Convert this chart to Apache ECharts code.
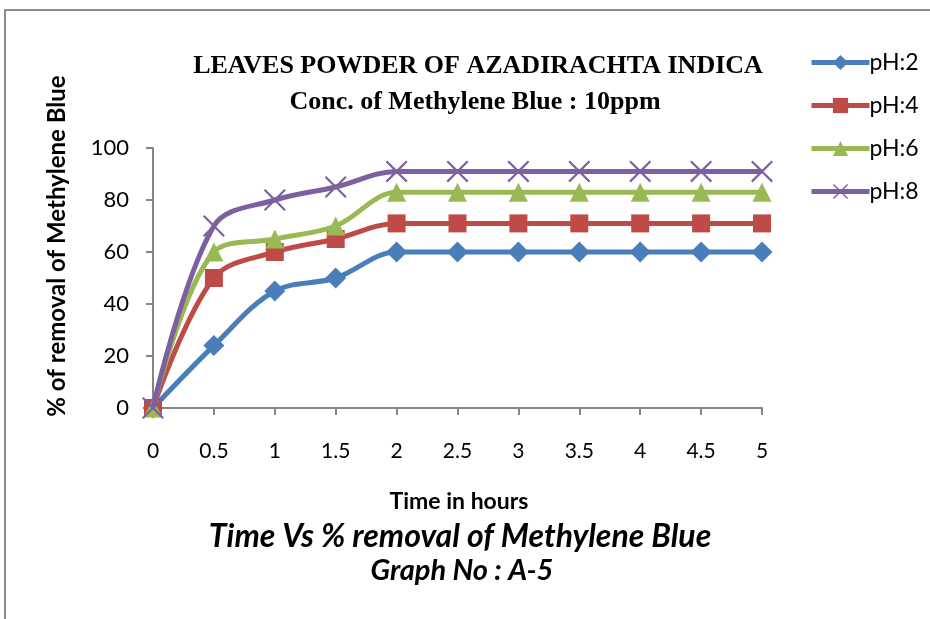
<!DOCTYPE html>
<html><head><meta charset="utf-8">
<script src="https://cdn.jsdelivr.net/npm/echarts@6/dist/echarts.min.js"></script>
<style>html,body{margin:0;padding:0;background:#fff}#c{width:930px;height:619px}</style>
</head><body><div id="c"></div>
<script>
var times = [0, 0.5, 1, 1.5, 2, 2.5, 3, 3.5, 4, 4.5, 5];
var ph2 = [0, 24, 45, 50, 60, 60, 60, 60, 60, 60, 60];
var ph4 = [0, 50, 60, 65, 71, 71, 71, 71, 71, 71, 71];
var ph6 = [0, 60, 65, 70, 83, 83, 83, 83, 83, 83, 83];
var ph8 = [0, 70, 80, 85, 91, 91, 91, 91, 91, 91, 91];
var seriesNames = ['pH:2', 'pH:4', 'pH:6', 'pH:8'];
var colors = ['#4A7EBB', '#BE4B48', '#98B954', '#7D60A0'];

function pairs(v){ return times.map(function(t,i){ return [t, v[i]]; }); }
var crossPath = 'path://M0,1.4 L1.4,0 L10,8.6 L18.6,0 L20,1.4 L11.4,10 L20,18.6 L18.6,20 L10,11.4 L1.4,20 L0,18.6 L8.6,10 Z';
var symbols = ['diamond', 'rect', 'triangle', crossPath];
var sizes = [21, 18, 19, 22];
var values = [ph2, ph4, ph6, ph8];

var font = 'Lato, "Open Sans", sans-serif';
function txt(s, x, y, size, opts, rot){
  var st = {text: s, x: 0, y: 0, textAlign: 'center', textVerticalAlign: 'middle',
    fill: '#000', fontFamily: font, fontWeight: 'bold', fontSize: size};
  for (var k in (opts||{})) st[k] = opts[k];
  return {type: 'text', x: x, y: y, rotation: rot || 0, style: st};
}
var chart = echarts.init(document.getElementById('c'));
chart.setOption({
  animation: false,
  graphic: [
    {type: 'rect', shape: {x: 5, y: 10, width: 1000, height: 700},
     style: {fill: 'none', stroke: '#8c8c8c', lineWidth: 2}},
    txt('LEAVES POWDER OF AZADIRACHTA INDICA', 478, 66, 26, {fontFamily: '"Liberation Serif", serif'}),
    txt('Conc. of Methylene Blue : 10ppm', 475, 102, 26, {fontFamily: '"Liberation Serif", serif'}),
    txt('% of removal of Methylene Blue', 57, 246, 24, {}, Math.PI / 2),
    txt('Time in hours', 459, 502, 23),
    txt('Time Vs % removal of Methylene Blue', 460, 537, 32, {fontStyle: 'italic'}),
    txt('Graph No : A-5', 462, 571, 29, {fontStyle: 'italic'})
  ],
  legend: {
    orient: 'vertical', left: 804, top: 46, itemWidth: 58, itemHeight: 19, itemGap: 20,
    lineStyle: {width: 5},
    textStyle: {fontFamily: font, fontSize: 23, color: '#000', padding: [0,0,0,-5]},
    data: seriesNames
  },
  grid: {left: 153, right: 168, top: 148, bottom: 211},
  xAxis: {
    type: 'value', min: 0, max: 5, interval: 0.5,
    splitLine: {show: false},
    axisLine: {lineStyle: {color: '#868686', width: 2}},
    axisTick: {length: 7, lineStyle: {color: '#868686', width: 2}},
    axisLabel: {margin: 33, fontFamily: font, fontSize: 21, color: '#000'}
  },
  yAxis: {
    type: 'value', min: 0, max: 100, interval: 20,
    splitLine: {show: false},
    axisLine: {show: true, lineStyle: {color: '#868686', width: 2}},
    axisTick: {show: true, length: 7, lineStyle: {color: '#868686', width: 2}},
    axisLabel: {margin: 24, fontFamily: font, fontSize: 22, color: '#000'}
  },
  series: seriesNames.map(function(n, i){
    return {
      name: n, type: 'line', data: pairs(values[i]), smooth: 0.35,
      symbol: symbols[i], symbolSize: sizes[i],
      lineStyle: {color: colors[i], width: 5},
      itemStyle: {color: colors[i]},
      z: 2 + i
    };
  })
});
</script></body></html>
